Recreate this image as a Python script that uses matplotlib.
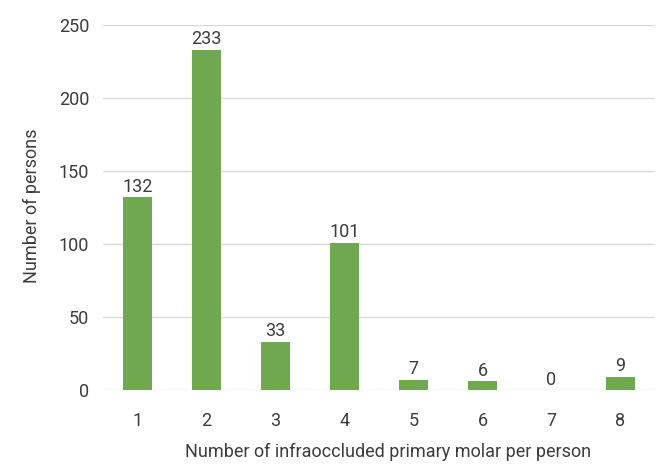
import matplotlib
matplotlib.use("Agg")
import matplotlib.pyplot as plt

categories = ["1", "2", "3", "4", "5", "6", "7", "8"]
persons = [132, 233, 33, 101, 7, 6, 0, 9]
yticks = [0, 50, 100, 150, 200, 250]

plt.rcParams["font.family"] = ["Roboto", "DejaVu Sans"]
text_color = "#3c3c3c"
bar_color = "#70a84f"
fs = 13.0
fw = "normal"

fig = plt.figure(figsize=(6.59, 4.65), dpi=100)
ax = fig.add_axes([103 / 659, 75 / 465, 552 / 659, 365 / 465])

x = list(range(len(categories)))
bars = ax.bar(x, persons, width=0.41, color=bar_color, zorder=3)

for xi, v in zip(x, persons):
    ax.text(xi, v + 1.0, str(v), ha="center", va="bottom", fontsize=fs,
            color=text_color, fontweight=fw)

ax.set_xlim(-0.5, len(categories) - 0.5)
ax.set_ylim(0, 250)
ax.set_yticks(yticks)
ax.set_xticks(x)
ax.set_xticklabels(categories)
ax.yaxis.grid(True, color="#d9d9d9", linewidth=1, zorder=0)
ax.set_axisbelow(True)
for s in ax.spines.values():
    s.set_visible(False)
ax.tick_params(axis="both", length=0, labelsize=fs, colors=text_color)
ax.tick_params(axis="x", pad=16)
ax.tick_params(axis="y", pad=10)
for lbl in ax.get_xticklabels() + ax.get_yticklabels():
    lbl.set_fontweight(fw)

ax.set_xlabel("Number of infraoccluded primary molar per person", fontsize=fs,
              color=text_color, fontweight=fw)
ax.xaxis.set_label_coords(0.517, -0.145)
ax.set_ylabel("Number of persons", fontsize=fs, color=text_color,
              fontweight=fw)
ax.yaxis.set_label_coords(-0.112, 0.506)

fig.savefig("out.png", dpi=100)
